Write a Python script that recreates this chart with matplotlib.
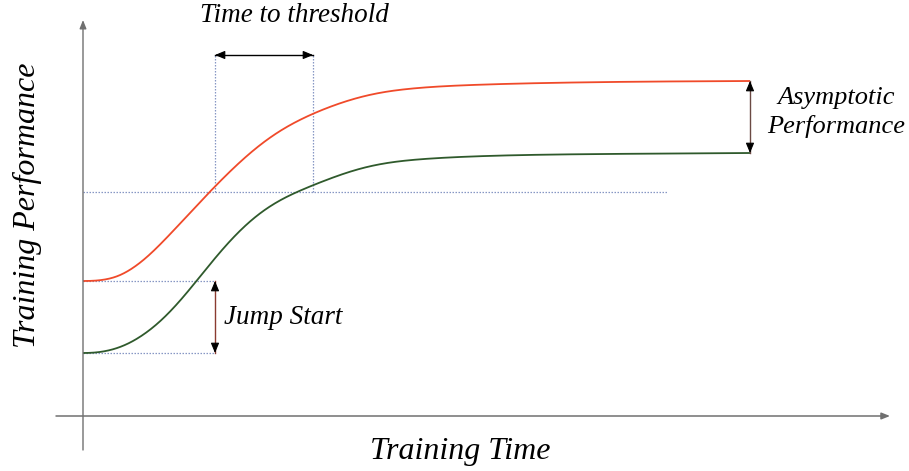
import numpy as np
import matplotlib
matplotlib.use("Agg")
import matplotlib.pyplot as plt

# ---- data (time units, performance units) ----
red_time = [0, 20, 35, 50, 65, 80, 100, 120, 140, 160, 180, 200, 220, 240, 260,
            280, 300, 320, 350, 400, 497, 580, 667]
red_perf = [135, 136.2, 140.1, 148.2, 160, 174.5, 195.6, 217, 237.6, 256.6, 273.2,
            286.8, 297.6, 306.4, 313.7, 319.5, 323.7, 326.5, 329.1, 331.4, 333.6,
            334.5, 335]
green_time = [0, 20, 40, 60, 80, 100, 120, 140, 160, 180, 200, 220, 240, 260, 280,
              300, 320, 350, 400, 500, 667]
green_perf = [63, 64.5, 70.2, 81.2, 97.5, 118.8, 143.1, 167.1, 188.1, 204.8, 217.2,
              226.6, 234.7, 242, 248, 252.3, 255.1, 257.6, 259.9, 261.8, 263]
threshold = 224
red_cross, green_cross = 132, 230
plateau_end = 667
threshold_end = 584

labels = {
    "x": "Training Time",
    "y": "Training Performance",
    "ttt": "Time to threshold",
    "js": "Jump Start",
    "ap": "Asymptotic\nPerformance",
}


def spline(x, y, n=25):
    """Clamped C2 cubic spline, used only to draw a smooth line through the points."""
    x = np.asarray(x, float); y = np.asarray(y, float)
    k = len(x); h = np.diff(x)
    d0 = 0.0
    d1 = (y[-1] - y[-2]) / h[-1]
    A = np.zeros((k, k)); b = np.zeros(k)
    A[0, 0] = 2 * h[0]; A[0, 1] = h[0]
    b[0] = 6 * ((y[1] - y[0]) / h[0] - d0)
    A[-1, -2] = h[-1]; A[-1, -1] = 2 * h[-1]
    b[-1] = 6 * (d1 - (y[-1] - y[-2]) / h[-1])
    for i in range(1, k - 1):
        A[i, i - 1] = h[i - 1]; A[i, i] = 2 * (h[i - 1] + h[i]); A[i, i + 1] = h[i]
        b[i] = 6 * ((y[i + 1] - y[i]) / h[i] - (y[i] - y[i - 1]) / h[i - 1])
    M = np.linalg.solve(A, b)
    xs, ys = [], []
    for i in range(k - 1):
        t = np.linspace(x[i], x[i + 1], n, endpoint=False)
        a = x[i + 1] - t; c = t - x[i]
        s = (M[i] * a**3 + M[i + 1] * c**3) / (6 * h[i]) \
            + (y[i] / h[i] - M[i] * h[i] / 6) * a + (y[i + 1] / h[i] - M[i + 1] * h[i] / 6) * c
        xs.append(t); ys.append(s)
    xs.append([x[-1]]); ys.append([y[-1]])
    return np.concatenate(xs), np.concatenate(ys)


fig = plt.figure(figsize=(9.09, 4.71), dpi=100)
ax = fig.add_axes([0, 0, 1, 1])
ax.set_xlim(-83, 909 - 83)
ax.set_ylim(-55, 416)
ax.axis("off")

serif = "Liberation Serif"
dot = dict(color="#8797C4", lw=0.9, linestyle=(0, (1.2, 1.2)))

# axes with arrows
ax.annotate("", xy=(807, 0), xytext=(-27, 0),
            arrowprops=dict(arrowstyle="-|>,head_length=0.5,head_width=0.2",
                            color="#707070", lw=1.1, shrinkA=0, shrinkB=0))
ax.annotate("", xy=(0, 396), xytext=(0, -34),
            arrowprops=dict(arrowstyle="-|>,head_length=0.5,head_width=0.2",
                            color="#707070", lw=1.0, shrinkA=0, shrinkB=0))

# dotted guide lines
ax.plot([0, threshold_end], [threshold, threshold], **dot)
ax.plot([red_cross, red_cross], [threshold, 361], **dot)
ax.plot([green_cross, green_cross], [threshold, 361], **dot)
ax.plot([0, red_cross], [red_perf[0], red_perf[0]], **dot)
ax.plot([0, red_cross], [green_perf[0], green_perf[0]], **dot)

# curves
rx, ry = spline(red_time, red_perf)
gx, gy = spline(green_time, green_perf)
ax.plot(rx, ry, color="#F04A2A", lw=1.3, solid_capstyle="butt")
ax.plot(gx, gy, color="#2F5A2C", lw=1.3, solid_capstyle="butt")


def darrow(p0, p1, shaft):
    ax.plot([p0[0], p1[0]], [p0[1], p1[1]], color=shaft, lw=1.0)
    for a, b in ((p0, p1), (p1, p0)):
        v = np.array(b, float) - np.array(a, float)
        v = v / np.linalg.norm(v)
        start = np.array(b, float) - v * 4
        ax.annotate("", xy=b, xytext=tuple(start),
                    arrowprops=dict(arrowstyle="-|>,head_length=0.6,head_width=0.25",
                                    color="black", lw=0.8, shrinkA=0, shrinkB=0))


darrow((red_cross, 361), (green_cross, 361), "black")
darrow((red_cross, green_perf[0]), (red_cross, red_perf[0]), "#8A3B30")
darrow((plateau_end, green_perf[-1]), (plateau_end, red_perf[-1]), "#6B4A44")

# texts
ax.text(211, 400, labels["ttt"], fontsize=19.5, family=serif, style="italic",
        ha="center", va="center")
ax.text(141, 99, labels["js"], fontsize=19.5, family=serif, style="italic",
        ha="left", va="center")
ax.text(753, 303.5, labels["ap"], fontsize=19, family=serif, style="italic",
        ha="center", va="center", linespacing=1.38)
ax.text(377, -35, labels["x"], fontsize=23, family=serif, style="italic",
        ha="center", va="center")
ax.text(-56, 211, labels["y"], fontsize=23, family=serif, style="italic",
        ha="center", va="center", rotation=90)

fig.savefig("out.png", dpi=100)
